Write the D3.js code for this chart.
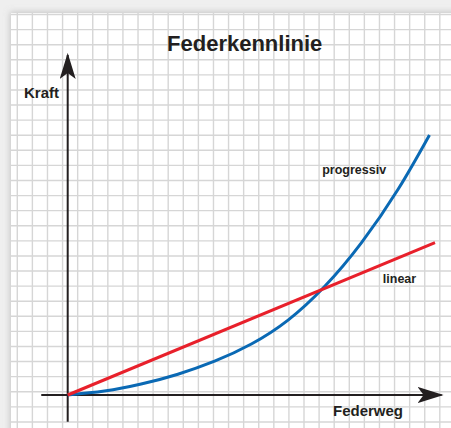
<!DOCTYPE html>
<html>
<head>
<meta charset="utf-8">
<script src="https://cdn.jsdelivr.net/npm/d3@7"></script>
<style>
  body { margin: 0; background: #ececec; }
  svg { display: block; }
  text { font-family: "Liberation Sans", Arial, sans-serif; font-weight: bold; fill: #231f20; }
</style>
</head>
<body>
<div id="chart"></div>
<script>
// Federweg (s) and Kraft (F) in arbitrary units
const linearS = [0, 10];
const linearF = [0, 5.86];

const progS = [0, 1, 2, 3, 4, 5, 6, 7, 8, 9, 9.85];
const progF = [0, 0.15, 0.42, 0.8, 1.3, 1.96, 2.88, 4.18, 5.86, 7.92, 10];

const labels = [
  { text: "progressiv", s: 6.93, f: 8.5 },
  { text: "linear", s: 8.58, f: 4.32 }
];

const W = 451, H = 428;

const svg = d3.select("#chart")
  .append("svg")
  .attr("width", W)
  .attr("height", H);

const defs = svg.append("defs");

// soft shadow on the paper edge
const shadow = defs.append("filter")
  .attr("id", "shadow")
  .attr("x", "-10%").attr("y", "-10%")
  .attr("width", "120%").attr("height", "120%");
shadow.append("feDropShadow")
  .attr("dx", -1).attr("dy", -1)
  .attr("stdDeviation", 3)
  .attr("flood-color", "#999")
  .attr("flood-opacity", 0.5);

svg.append("rect")
  .attr("width", W).attr("height", H)
  .attr("fill", "#efefef");

svg.append("rect")
  .attr("x", 11).attr("y", 13)
  .attr("width", W + 20).attr("height", H + 20)
  .attr("fill", "#fff")
  .attr("filter", "url(#shadow)");

// grid paper
const cell = 15.09;
const grid = svg.append("g")
  .attr("stroke", "#d6d6d6")
  .attr("stroke-width", 1.4);

grid.selectAll("line.v")
  .data(d3.range(17.3, W, cell))
  .enter().append("line")
  .attr("x1", d => d).attr("x2", d => d)
  .attr("y1", 13).attr("y2", H);

grid.selectAll("line.h")
  .data(d3.range(14.5, H, cell))
  .enter().append("line")
  .attr("x1", 11).attr("x2", W)
  .attr("y1", d => d).attr("y2", d => d);

// scales
const x = d3.scaleLinear().domain([0, 10]).range([67.7, 435]);
const y = d3.scaleLinear().domain([0, 10]).range([395, 135]);

// arrowheads
defs.append("marker")
  .attr("id", "arrow")
  .attr("viewBox", "0 0 26 16")
  .attr("refX", 24).attr("refY", 8)
  .attr("markerWidth", 26).attr("markerHeight", 16)
  .attr("markerUnits", "userSpaceOnUse")
  .attr("orient", "auto")
  .append("path")
  .attr("d", "M0,0 L26,8 L0,16 L6,8 Z")
  .attr("fill", "#231f20");

// axes
const axes = svg.append("g")
  .attr("stroke", "#231f20")
  .attr("stroke-width", 2);

axes.append("line")
  .attr("x1", x(-0.72)).attr("y1", y(0))
  .attr("x2", x(10.18)).attr("y2", y(0))
  .attr("marker-end", "url(#arrow)");

axes.append("line")
  .attr("x1", x(0)).attr("y1", y(-1.03))
  .attr("x2", x(0)).attr("y2", y(13.08))
  .attr("marker-end", "url(#arrow)");

// curves
const line = d3.line()
  .x(d => x(d[0]))
  .y(d => y(d[1]))
  .curve(d3.curveNatural);

svg.append("path")
  .datum(d3.zip(progS, progF))
  .attr("d", line)
  .attr("fill", "none")
  .attr("stroke", "#0a69b4")
  .attr("stroke-width", 3);

svg.append("path")
  .datum(d3.zip(linearS, linearF))
  .attr("d", line)
  .attr("fill", "none")
  .attr("stroke", "#e8202b")
  .attr("stroke-width", 3);

// texts
svg.selectAll("text.curve")
  .data(labels)
  .enter().append("text")
  .attr("class", "curve")
  .attr("x", d => x(d.s))
  .attr("y", d => y(d.f))
  .style("font-size", "12.5px")
  .text(d => d.text);

svg.append("text")
  .attr("x", 244.7)
  .attr("y", 51)
  .attr("text-anchor", "middle")
  .style("font-size", "22px")
  .text("Federkennlinie");

svg.append("text")
  .attr("x", 24)
  .attr("y", 98)
  .style("font-size", "15px")
  .text("Kraft");

svg.append("text")
  .attr("x", 333)
  .attr("y", 416)
  .style("font-size", "15px")
  .text("Federweg");
</script>
</body>
</html>
